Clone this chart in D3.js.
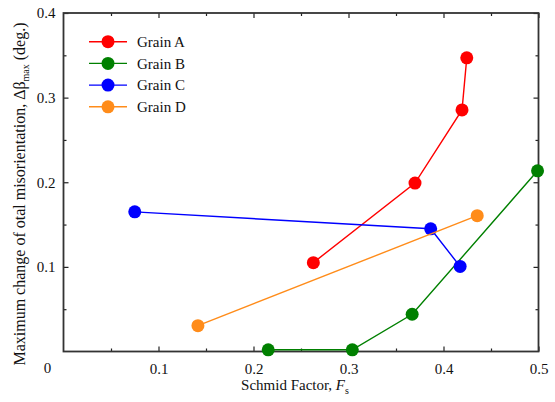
<!DOCTYPE html>
<html>
<head>
<meta charset="utf-8">
<script src="https://cdn.jsdelivr.net/npm/d3@7"></script>
<style>
  body { margin: 0; background: #fff; }
  svg text { font-family: "Liberation Serif", "DejaVu Serif", "Times New Roman", Times, serif !important; }
</style>
</head>
<body>
<svg id="chart"></svg>
<script>
// chart size
var width = 555, height = 402;
var margin = {top: 13, right: 16.5, bottom: 50.5, left: 63.5};
var serif = "'Liberation Serif', 'DejaVu Serif', 'Times New Roman', Times, serif";

// data
var seriesNames = ["Grain A", "Grain B", "Grain C", "Grain D"];
var seriesColors = ["#ff0000", "#008000", "#0000ff", "#ff8c1a"];
var grainAx = [0.263, 0.370, 0.4195, 0.4245];
var grainAy = [0.105, 0.199, 0.2855, 0.347];
var grainBx = [0.2155, 0.304, 0.367, 0.499];
var grainBy = [0.002, 0.002, 0.044, 0.2135];
var grainCx = [0.075, 0.3865, 0.4175];
var grainCy = [0.165, 0.145, 0.1005];
var grainDx = [0.1415, 0.4355];
var grainDy = [0.0305, 0.1605];
var xTicks = [0.1, 0.2, 0.3, 0.4, 0.5];
var yTicks = [0.1, 0.2, 0.3, 0.4];
var xMinor = [0.05, 0.15, 0.25, 0.35, 0.45];
var yMinor = [0.05, 0.15, 0.25, 0.35];

var series = [
  {name: seriesNames[0], color: seriesColors[0], xs: grainAx, ys: grainAy},
  {name: seriesNames[1], color: seriesColors[1], xs: grainBx, ys: grainBy},
  {name: seriesNames[2], color: seriesColors[2], xs: grainCx, ys: grainCy},
  {name: seriesNames[3], color: seriesColors[3], xs: grainDx, ys: grainDy}
];
series.forEach(function(s) {
  s.points = s.xs.map(function(v, i) { return {x: v, y: s.ys[i]}; });
});

var svg = d3.select("#chart")
  .attr("width", width)
  .attr("height", height)
  .attr("font-family", serif);

var x = d3.scaleLinear().domain([0, 0.5]).range([margin.left, width - margin.right]);
var y = d3.scaleLinear().domain([0, 0.4]).range([height - margin.bottom, margin.top]);

var fmt = d3.format(".1f");

// axes with inward ticks
function styleAxis(g) {
  g.attr("font-family", serif);
  g.select(".domain").remove();
  g.selectAll("line").attr("stroke", "#222").attr("stroke-width", 1.2);
  g.selectAll("text").attr("fill", "#111").attr("font-size", 15).attr("font-family", serif);
}

svg.append("g").attr("transform", "translate(0," + y(0) + ")")
  .call(d3.axisBottom(x).tickValues(xTicks).tickFormat(fmt).tickSizeInner(-5).tickSizeOuter(0).tickPadding(12))
  .call(styleAxis);
svg.append("g").attr("transform", "translate(0," + y(0) + ")")
  .call(d3.axisBottom(x).tickValues(xMinor).tickFormat("").tickSizeInner(-3).tickSizeOuter(0))
  .call(styleAxis);
svg.append("g").attr("transform", "translate(0," + y(0.4) + ")")
  .call(d3.axisTop(x).tickValues(xTicks).tickFormat("").tickSizeInner(-5).tickSizeOuter(0))
  .call(styleAxis);
svg.append("g").attr("transform", "translate(0," + y(0.4) + ")")
  .call(d3.axisTop(x).tickValues(xMinor).tickFormat("").tickSizeInner(-3).tickSizeOuter(0))
  .call(styleAxis);

svg.append("g").attr("transform", "translate(" + x(0) + ",0)")
  .call(d3.axisLeft(y).tickValues(yTicks).tickFormat(fmt).tickSizeInner(-5).tickSizeOuter(0).tickPadding(8))
  .call(styleAxis);
svg.append("g").attr("transform", "translate(" + x(0) + ",0)")
  .call(d3.axisLeft(y).tickValues(yMinor).tickFormat("").tickSizeInner(-3).tickSizeOuter(0))
  .call(styleAxis);
svg.append("g").attr("transform", "translate(" + x(0.5) + ",0)")
  .call(d3.axisRight(y).tickValues(yTicks).tickFormat("").tickSizeInner(-5).tickSizeOuter(0))
  .call(styleAxis);
svg.append("g").attr("transform", "translate(" + x(0.5) + ",0)")
  .call(d3.axisRight(y).tickValues(yMinor).tickFormat("").tickSizeInner(-3).tickSizeOuter(0))
  .call(styleAxis);

// shared origin label
svg.append("text")
  .attr("x", x(0) - 16)
  .attr("y", y(0) + 21)
  .attr("text-anchor", "middle")
  .attr("font-size", 15)
  .attr("fill", "#111")
  .text("0");

// frame
svg.append("rect")
  .attr("x", x(0)).attr("y", y(0.4))
  .attr("width", x(0.5) - x(0)).attr("height", y(0) - y(0.4))
  .attr("fill", "none").attr("stroke", "#333").attr("stroke-width", 1.8);

// lines and markers
var line = d3.line().x(function(d) { return x(d.x); }).y(function(d) { return y(d.y); });

var sg = svg.append("g").selectAll("g").data(series).enter().append("g");
sg.append("path")
  .attr("d", function(d) { return line(d.points); })
  .attr("fill", "none")
  .attr("stroke", function(d) { return d.color; })
  .attr("stroke-width", 1.4);
sg.selectAll("circle")
  .data(function(d) { return d.points.map(function(p) { return {x: p.x, y: p.y, color: d.color}; }); })
  .enter().append("circle")
  .attr("cx", function(d) { return x(d.x); })
  .attr("cy", function(d) { return y(d.y); })
  .attr("r", 6.5)
  .attr("fill", function(d) { return d.color; });

// legend
var legend = svg.append("g").selectAll("g").data(series).enter().append("g")
  .attr("transform", function(d, i) { return "translate(89," + (41.7 + i * 21.7) + ")"; });
legend.append("line")
  .attr("x1", 0).attr("x2", 38)
  .attr("stroke", function(d) { return d.color; })
  .attr("stroke-width", 1.4);
legend.append("circle")
  .attr("cx", 19).attr("r", 6.5)
  .attr("fill", function(d) { return d.color; });
legend.append("text")
  .attr("x", 48).attr("dy", "0.35em")
  .attr("font-size", 15)
  .attr("fill", "#111")
  .text(function(d) { return d.name; });

// axis titles
var xt = svg.append("text")
  .attr("x", 295).attr("y", 390)
  .attr("text-anchor", "middle")
  .attr("font-size", 15)
  .attr("fill", "#111");
xt.append("tspan").text("Schmid Factor, ");
xt.append("tspan").attr("font-style", "italic").text("F");
xt.append("tspan").attr("dy", 4).attr("font-size", 10).text("s");

var yt = svg.append("text")
  .attr("transform", "translate(25,194) rotate(-90)")
  .attr("text-anchor", "middle")
  .attr("font-size", 16)
  .attr("fill", "#111");
yt.append("tspan").text("Maximum  change of otal misorientation, \u0394\u03b2");
yt.append("tspan").attr("dy", 4).attr("font-size", 10).text("max");
yt.append("tspan").attr("dy", -4).text(" (deg.)");
</script>
</body>
</html>
